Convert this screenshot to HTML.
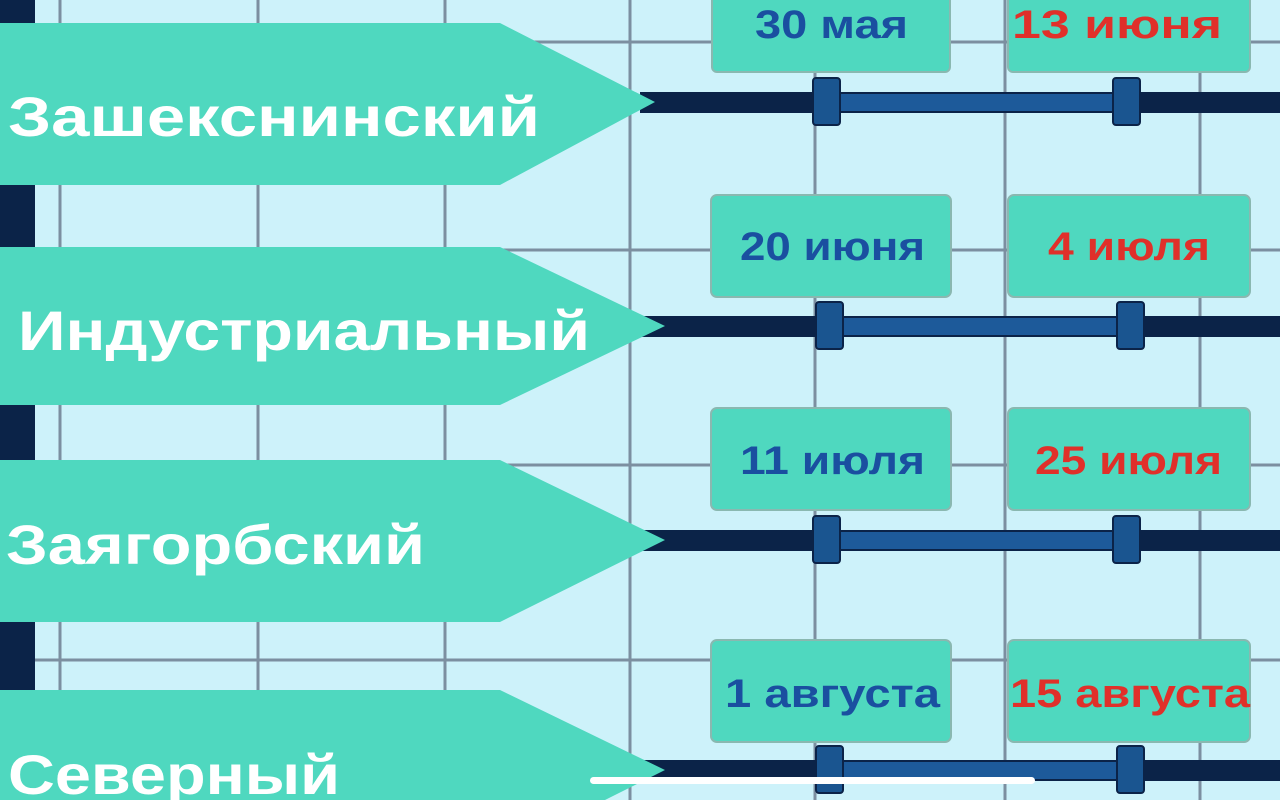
<!DOCTYPE html>
<html><head><meta charset="utf-8"><style>
html,body{margin:0;padding:0;width:1280px;height:800px;overflow:hidden;background:#cdf2fa}
svg{display:block}
</style></head><body>
<svg width="1280" height="800" viewBox="0 0 1280 800" xmlns="http://www.w3.org/2000/svg">
<rect width="1280" height="800" fill="#cdf2fa"/>
<g stroke="#7c8fa0" stroke-width="3">
<line x1="60" y1="0" x2="60" y2="800"/><line x1="258" y1="0" x2="258" y2="800"/>
<line x1="445" y1="0" x2="445" y2="800"/><line x1="630" y1="0" x2="630" y2="800"/>
<line x1="815" y1="0" x2="815" y2="800"/><line x1="1005" y1="0" x2="1005" y2="800"/>
<line x1="1200" y1="0" x2="1200" y2="800"/>
<line x1="0" y1="42" x2="1280" y2="42"/><line x1="0" y1="250" x2="1280" y2="250"/>
<line x1="0" y1="465" x2="1280" y2="465"/><line x1="0" y1="660" x2="1280" y2="660"/>
</g>
<rect x="0" y="0" width="35" height="800" fill="#0b2348"/>
<g font-family="'Liberation Sans',sans-serif" font-weight="bold">
<g>
<rect x="640" y="92" width="640" height="21" fill="#0b2348"/>
<rect x="830" y="94" width="300" height="17" fill="#1d5a9a"/>
<rect x="813" y="78" width="27" height="47" rx="3" fill="#1a5590" stroke="#0b2348" stroke-width="2"/>
<rect x="1113" y="78" width="27" height="47" rx="3" fill="#1a5590" stroke="#0b2348" stroke-width="2"/>
<polygon points="0,23 500,23 655,102 500,185 0,185" fill="#4fd8bf"/>
<text x="8" y="136" font-size="56" font-weight="600" fill="#fff" textLength="532" lengthAdjust="spacingAndGlyphs">Зашекснинский</text>
<rect x="712" y="-8" width="238" height="80" rx="5" fill="#4fd8bf" stroke="#8ab8b0" stroke-width="2"/>
<rect x="1008" y="-8" width="242" height="80" rx="5" fill="#4fd8bf" stroke="#8ab8b0" stroke-width="2"/>
<text x="755" y="38" font-size="40" fill="#1a4fa0" textLength="153" lengthAdjust="spacingAndGlyphs">30 мая</text>
<text x="1012" y="38" font-size="40" fill="#e0302a" textLength="210" lengthAdjust="spacingAndGlyphs">13 июня</text>
</g>
<g>
<rect x="640" y="316" width="640" height="21" fill="#0b2348"/>
<rect x="835" y="318" width="300" height="17" fill="#1d5a9a"/>
<rect x="816" y="302" width="27" height="47" rx="3" fill="#1a5590" stroke="#0b2348" stroke-width="2"/>
<rect x="1117" y="302" width="27" height="47" rx="3" fill="#1a5590" stroke="#0b2348" stroke-width="2"/>
<polygon points="0,247 500,247 665,326 500,405 0,405" fill="#4fd8bf"/>
<text x="18" y="350" font-size="56" font-weight="600" fill="#fff" textLength="572" lengthAdjust="spacingAndGlyphs">Индустриальный</text>
<rect x="711" y="195" width="240" height="102" rx="6" fill="#4fd8bf" stroke="#8ab8b0" stroke-width="2"/>
<rect x="1008" y="195" width="242" height="102" rx="6" fill="#4fd8bf" stroke="#8ab8b0" stroke-width="2"/>
<text x="740" y="260" font-size="40" fill="#1a4fa0" textLength="185" lengthAdjust="spacingAndGlyphs">20 июня</text>
<text x="1048" y="260" font-size="40" fill="#e0302a" textLength="162" lengthAdjust="spacingAndGlyphs">4 июля</text>
</g>
<g>
<rect x="640" y="530" width="640" height="21" fill="#0b2348"/>
<rect x="830" y="532" width="300" height="17" fill="#1d5a9a"/>
<rect x="813" y="516" width="27" height="47" rx="3" fill="#1a5590" stroke="#0b2348" stroke-width="2"/>
<rect x="1113" y="516" width="27" height="47" rx="3" fill="#1a5590" stroke="#0b2348" stroke-width="2"/>
<polygon points="0,460 500,460 665,540 500,622 0,622" fill="#4fd8bf"/>
<text x="6" y="564" font-size="56" font-weight="600" fill="#fff" textLength="419" lengthAdjust="spacingAndGlyphs">Заягорбский</text>
<rect x="711" y="408" width="240" height="102" rx="6" fill="#4fd8bf" stroke="#8ab8b0" stroke-width="2"/>
<rect x="1008" y="408" width="242" height="102" rx="6" fill="#4fd8bf" stroke="#8ab8b0" stroke-width="2"/>
<text x="740" y="474" font-size="40" fill="#1a4fa0" textLength="185" lengthAdjust="spacingAndGlyphs">11 июля</text>
<text x="1035" y="474" font-size="40" fill="#e0302a" textLength="187" lengthAdjust="spacingAndGlyphs">25 июля</text>
</g>
<g>
<rect x="640" y="760" width="640" height="21" fill="#0b2348"/>
<rect x="835" y="762" width="300" height="17" fill="#1d5a9a"/>
<rect x="816" y="746" width="27" height="47" rx="3" fill="#1a5590" stroke="#0b2348" stroke-width="2"/>
<rect x="1117" y="746" width="27" height="47" rx="3" fill="#1a5590" stroke="#0b2348" stroke-width="2"/>
<polygon points="0,690 500,690 665,770 605,800 0,800" fill="#4fd8bf"/>
<text x="8" y="794" font-size="56" font-weight="600" fill="#fff" textLength="332" lengthAdjust="spacingAndGlyphs">Северный</text>
<rect x="711" y="640" width="240" height="102" rx="6" fill="#4fd8bf" stroke="#8ab8b0" stroke-width="2"/>
<rect x="1008" y="640" width="242" height="102" rx="6" fill="#4fd8bf" stroke="#8ab8b0" stroke-width="2"/>
<text x="725" y="707" font-size="40" fill="#1a4fa0" textLength="215" lengthAdjust="spacingAndGlyphs">1 августа</text>
<text x="1010" y="707" font-size="40" fill="#e0302a" textLength="240" lengthAdjust="spacingAndGlyphs">15 августа</text>
</g>
</g>
<rect x="590" y="777" width="445" height="7" rx="3.5" fill="#ffffff"/>
</svg>
</body></html>
